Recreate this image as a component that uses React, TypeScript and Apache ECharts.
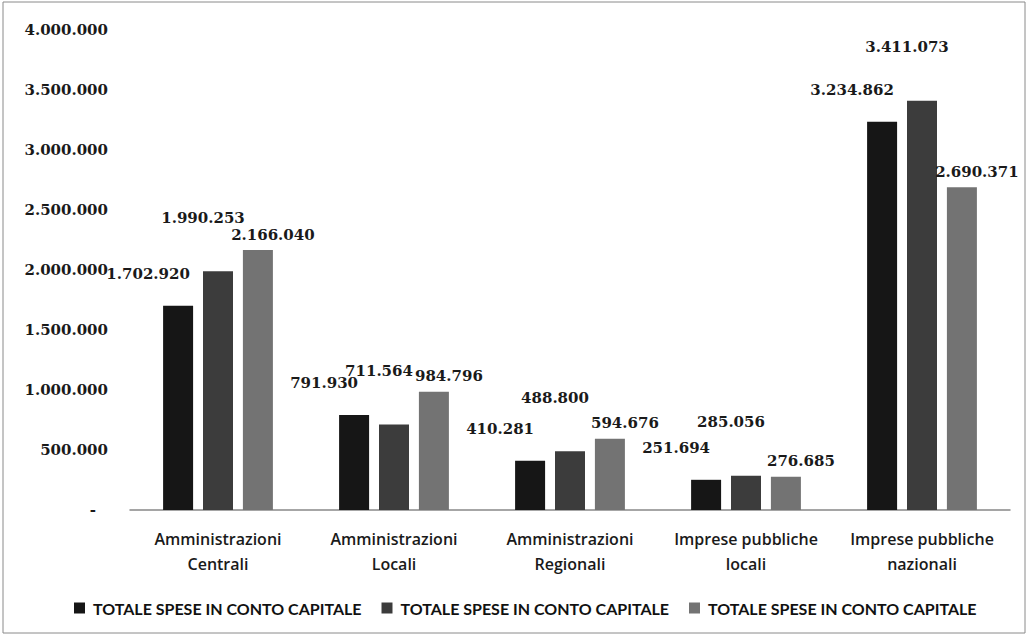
import React, { useEffect, useRef } from "react";
import * as echarts from "echarts";

const categories = [
  "Amministrazioni\nCentrali",
  "Amministrazioni\nLocali",
  "Amministrazioni\nRegionali",
  "Imprese pubbliche\nlocali",
  "Imprese pubbliche\nnazionali",
];
const seriesNames = [
  "TOTALE SPESE IN CONTO CAPITALE",
  "TOTALE SPESE IN CONTO CAPITALE\u200b",
  "TOTALE SPESE IN CONTO CAPITALE\u200b\u200b",
];
const series1 = [1702920, 791930, 410281, 251694, 3234862];
const series2 = [1990253, 711564, 488800, 285056, 3411073];
const series3 = [2166040, 984796, 594676, 276685, 2690371];
const yMin = 0;
const yMax = 4000000;
const yInterval = 500000;

const fmt = (v: number) =>
  String(Math.round(v)).replace(/\B(?=(\d{3})+(?!\d))/g, ".");

const colors = ["#161616", "#3c3c3c", "#737373"];
const labelOffsets = [
  [-30, -19],
  [-15, -41],
  [15, -3],
];

export default function App() {
  const ref = useRef<HTMLDivElement>(null);
  useEffect(() => {
    if (!ref.current) return;
    const chart = echarts.init(ref.current, undefined, { renderer: "svg" });
    const valueFont = {
      fontFamily: "DejaVu Serif",
      fontWeight: "bold" as const,
      fontSize: 15,
      color: "#1a1a1a",
    };
    const data = [series1, series2, series3];
    chart.setOption({
      animation: false,
      backgroundColor: "#ffffff",
      graphic: [
        {
          type: "rect",
          shape: { x: 3, y: 2, width: 1022, height: 631 },
          style: { fill: "none", stroke: "#8a8a8a", lineWidth: 1 },
          silent: true,
        },
      ],
      grid: { left: 130, right: 19, top: 30, bottom: 128 },
      legend: {
        top: 595,
        left: 69,
        itemWidth: 11,
        itemHeight: 11,
        itemGap: 20,
        icon: "rect",
        formatter: (n: string) => n.replace(/\u200b/g, ""),
        textStyle: {
          fontFamily: "Lato",
          fontWeight: "bold",
          fontSize: 16,
          color: "#111",
          padding: [0, 0, 0, 3],
        },
        data: seriesNames,
      },
      xAxis: {
        type: "category",
        data: categories,
        axisTick: { show: false },
        axisLine: { lineStyle: { color: "#888", width: 1.5 } },
        axisLabel: {
          margin: 16,
          fontFamily: "Open Sans",
          fontWeight: 600,
          fontSize: 16,
          lineHeight: 25,
          color: "#1a1a1a",
          interval: 0,
        },
      },
      yAxis: {
        type: "value",
        min: yMin,
        max: yMax,
        interval: yInterval,
        splitLine: { show: false },
        axisLine: { show: false },
        axisTick: { show: false },
        axisLabel: {
          margin: 22,
          formatter: (v: number) => (v === 0 ? "{z|-}" : fmt(v)),
          ...valueFont,
          rich: { z: { ...valueFont, padding: [0, 12, 0, 0] } },
        },
      },
      series: data.map((d, i) => ({
        name: seriesNames[i],
        type: "bar",
        data: d,
        barWidth: 30,
        barGap: "33%",
        itemStyle: { color: colors[i] },
        label: {
          show: true,
          position: "top",
          distance: 5,
          offset: labelOffsets[i],
          formatter: (p: any) => fmt(p.value),
          ...valueFont,
        },
      })),
    });
    return () => chart.dispose();
  }, []);
  return (
    <div
      ref={ref}
      style={{ position: "fixed", left: 0, top: 0, width: 1029, height: 638 }}
    />
  );
}
